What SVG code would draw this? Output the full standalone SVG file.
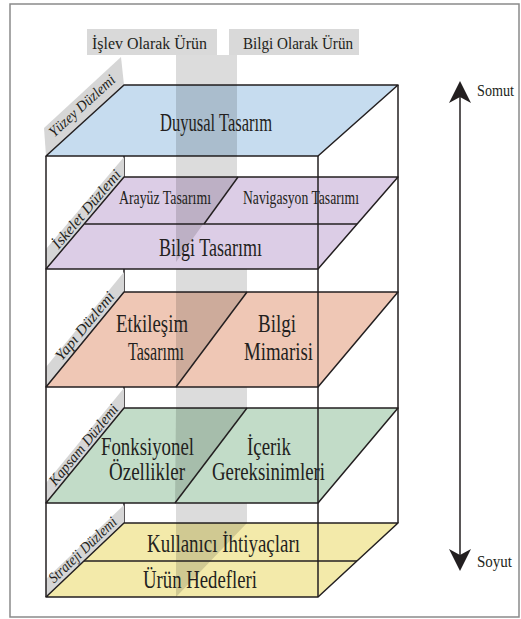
<svg xmlns="http://www.w3.org/2000/svg" width="521" height="619" viewBox="0 0 521 619">
<defs>
<style>
text{font-family:'Liberation Serif','DejaVu Serif',serif;fill:#231f20;}
.big{font-size:25px;}
.mid{font-size:18px;}
.top{font-size:16px;}
.ax{font-size:16px;}
.lbl{font-size:15px;font-style:italic;}
.edge{stroke:#231f20;stroke-width:1.5;fill:none;stroke-linejoin:round;}
.strip{fill:#d6d6d6;}
.shade{fill:#000;fill-opacity:0.14;}
.band{fill:#dcdcdc;}
.box{fill:#d9d9d9;}
</style>
<marker id="ah" viewBox="0 0 22 22" markerUnits="userSpaceOnUse" markerWidth="22" markerHeight="22" refX="6" refY="11" orient="auto-start-reverse">
<path d="M0,0 L22,11 L0,22 L6,11 Z" fill="#231f20"/>
</marker>
</defs>
<rect x="0" y="0" width="521" height="619" fill="#fff"/>
<rect x="10" y="4" width="509" height="613" fill="#fff" stroke="#8a8a8a" stroke-width="1.5"/>

<g id="top-labels">
<rect class="box" x="87" y="29" width="130" height="26"/>
<text class="top" x="149.5" y="49" text-anchor="middle" textLength="115" lengthAdjust="spacingAndGlyphs">İşlev Olarak Ürün</text>
<rect class="box" x="229" y="29" width="130" height="26"/>
<text class="top" x="298" y="49" text-anchor="middle" textLength="110" lengthAdjust="spacingAndGlyphs">Bilgi Olarak Ürün</text>
</g>

<g id="band">
<path class="band" d="M176,55 H237 V269 H247 V597 H176 Z"/>
</g>

<g id="box-back" class="edge">
<line x1="124" y1="85" x2="124" y2="523"/>
<line x1="398" y1="85" x2="398" y2="523"/>
</g>

<g id="surface">
<polygon class="strip" points="46,156 124,85 121,57 44,128"/>
<g transform="translate(90.7,115.3) rotate(-42.3)"><text class="lbl" x="0" y="-8" text-anchor="middle" textLength="84" lengthAdjust="spacingAndGlyphs">Yüzey Düzlemi</text></g>
<polygon points="124,85 398,85 318,156 46,156" class="edge" style="fill:#c6dcef"/>
<rect class="shade" x="176" y="85" width="61" height="71"/>
<text class="big" x="216" y="131" text-anchor="middle" textLength="112" lengthAdjust="spacingAndGlyphs">Duyusal Tasarım</text>
</g>

<g id="skeleton">
<polygon class="strip" points="46,269 124,177 124,157 46,249"/>
<g transform="translate(92.5,214.2) rotate(-49.7)"><text class="lbl" x="0" y="-3" text-anchor="middle" textLength="98" lengthAdjust="spacingAndGlyphs">İskelet Düzlemi</text></g>
<polygon points="124,177 398,177 318,269 46,269" class="edge" style="fill:#dccde6"/>
<polygon class="shade" points="176,177 237,177 176,262"/>
<line class="edge" x1="84.5" y1="224" x2="357" y2="224"/>
<line class="edge" x1="238" y1="177" x2="204" y2="224"/>
<text class="mid" x="165" y="204" text-anchor="middle" textLength="92" lengthAdjust="spacingAndGlyphs">Arayüz Tasarımı</text>
<text class="mid" x="301" y="204" text-anchor="middle" textLength="116" lengthAdjust="spacingAndGlyphs">Navigasyon Tasarımı</text>
<text class="big" x="210.5" y="256" text-anchor="middle" textLength="103" lengthAdjust="spacingAndGlyphs">Bilgi Tasarımı</text>
</g>

<g id="structure">
<polygon class="strip" points="46,387 124,292 124,272 46,367"/>
<g transform="translate(91.6,331.5) rotate(-50.6)"><text class="lbl" x="0" y="-4" text-anchor="middle" textLength="84" lengthAdjust="spacingAndGlyphs">Yapı Düzlemi</text></g>
<polygon points="124,292 398,292 318,387 46,387" class="edge" style="fill:#efc7b5"/>
<polygon class="shade" points="176,292 247,292 176,387"/>
<line class="edge" x1="247" y1="292" x2="176" y2="387"/>
<text class="big" x="152" y="332" text-anchor="middle" textLength="72" lengthAdjust="spacingAndGlyphs">Etkileşim</text>
<text class="big" x="156" y="360" text-anchor="middle" textLength="56" lengthAdjust="spacingAndGlyphs">Tasarımı</text>
<text class="big" x="277" y="332" text-anchor="middle" textLength="38" lengthAdjust="spacingAndGlyphs">Bilgi</text>
<text class="big" x="278.5" y="360" text-anchor="middle" textLength="69" lengthAdjust="spacingAndGlyphs">Mimarisi</text>
</g>

<g id="scope">
<polygon class="strip" points="46,503 124,408 124,388 46,483"/>
<g transform="translate(89.6,449.8) rotate(-50.6)"><text class="lbl" x="0" y="-3" text-anchor="middle" textLength="100" lengthAdjust="spacingAndGlyphs">Kapsam Düzlemi</text></g>
<polygon points="124,408 398,408 318,503 46,503" class="edge" style="fill:#c2dcc8"/>
<polygon class="shade" points="176,408 247,408 175,503"/>
<line class="edge" x1="247" y1="408" x2="175" y2="503"/>
<text class="big" x="147.5" y="455" text-anchor="middle" textLength="93" lengthAdjust="spacingAndGlyphs">Fonksiyonel</text>
<text class="big" x="147" y="480" text-anchor="middle" textLength="76" lengthAdjust="spacingAndGlyphs">Özellikler</text>
<text class="big" x="269" y="455" text-anchor="middle" textLength="44" lengthAdjust="spacingAndGlyphs">İçerik</text>
<text class="big" x="268.5" y="480" text-anchor="middle" textLength="113" lengthAdjust="spacingAndGlyphs">Gereksinimleri</text>
</g>

<g id="strategy">
<polygon class="strip" points="46,597 124,523 124,505 46,579"/>
<g transform="translate(88.7,556.4) rotate(-43.5)"><text class="lbl" x="0" y="-4" text-anchor="middle" textLength="88" lengthAdjust="spacingAndGlyphs">Strateji Düzlemi</text></g>
<polygon points="124,523 398,523 318,597 46,597" class="edge" style="fill:#f3eaaa"/>
<polygon class="shade" points="176,523 247,523 176,597"/>
<line class="edge" x1="84" y1="561" x2="357" y2="561"/>
<text class="big" x="223.5" y="552" text-anchor="middle" textLength="153" lengthAdjust="spacingAndGlyphs">Kullanıcı İhtiyaçları</text>
<text class="big" x="200" y="588" text-anchor="middle" textLength="114" lengthAdjust="spacingAndGlyphs">Ürün Hedefleri</text>
</g>

<g id="box-front" class="edge">
<line x1="46" y1="156" x2="46" y2="597"/>
<line x1="318" y1="156" x2="318" y2="597"/>
</g>

<g id="connectors">
<line x1="460" y1="97" x2="460" y2="555" stroke="#231f20" stroke-width="1.5" marker-start="url(#ah)" marker-end="url(#ah)"/>
</g>
<g id="axis-labels">
<text class="ax" x="477" y="96" textLength="37" lengthAdjust="spacingAndGlyphs">Somut</text>
<text class="ax" x="477" y="567" textLength="35" lengthAdjust="spacingAndGlyphs">Soyut</text>
</g>
</svg>
